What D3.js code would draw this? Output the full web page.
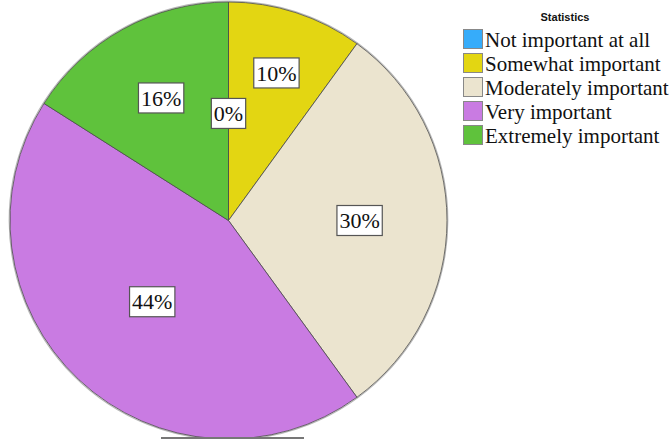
<!DOCTYPE html>
<html>
<head>
<meta charset="utf-8">
<script src="https://cdn.jsdelivr.net/npm/d3@7"></script>
<style>
  html, body { margin: 0; padding: 0; background: #fff; }
  svg { display: block; }
  .serif { font-family: "Liberation Serif", "Times New Roman", Times, serif; }
  .sans { font-family: "Liberation Sans", Arial, Helvetica, sans-serif; }
</style>
</head>
<body>
<svg id="chart" width="671" height="439"></svg>
<script>
// Response categories and their share of answers (percent)
const categories = ["Not important at all", "Somewhat important", "Moderately important", "Very important", "Extremely important"];
const percents = [0, 10, 30, 44, 16];
const legendTitle = "Statistics";

// Styling
const colors = ["#36acfa", "#e3d612", "#ebe4cf", "#c97be2", "#5fc23c"];
const labelRadiusFactor = [0.49, 0.71, 0.6, 0.51, 0.64];

const svg = d3.select("#chart");
const cx = 228.5, cy = 220.5, R = 218.5;

const pie = d3.pie().value(d => d.v).sort(null);
const rows = categories.map((c, i) => ({ c, v: percents[i], i }));
const arcs = pie(rows);
const arc = d3.arc().innerRadius(0).outerRadius(R);

const g = svg.append("g").attr("transform", `translate(${cx},${cy})`);

// faint outer shadow ring
g.append("circle").attr("r", R + 0.8).attr("fill", "none")
  .attr("stroke", "#b8b8b8").attr("stroke-width", 1.2);

g.selectAll("path.slice").data(arcs).join("path")
  .attr("class", "slice")
  .attr("d", arc)
  .attr("fill", d => colors[d.data.i])
  .attr("stroke", "#4a4a4a")
  .attr("stroke-width", 0.8);

// value labels in white boxes
const labels = g.selectAll("g.lbl").data(arcs).join("g").attr("class", "lbl")
  .attr("transform", d => {
    const r = R * labelRadiusFactor[d.data.i];
    const a = d3.arc().innerRadius(r).outerRadius(r);
    const [x, y] = a.centroid(d);
    return `translate(${x},${y})`;
  });
labels.each(function(d) {
  const sel = d3.select(this);
  const t = sel.append("text")
    .attr("class", "serif")
    .attr("text-anchor", "middle")
    .attr("dy", "0.35em")
    .attr("font-size", 22)
    .attr("fill", "#111")
    .text(d3.format("d")(d.data.v) + "%");
  const bb = t.node().getBBox();
  sel.insert("rect", "text")
    .attr("x", bb.x - 2.5).attr("y", -15)
    .attr("width", bb.width + 5).attr("height", 30)
    .attr("fill", "#fff").attr("stroke", "#555").attr("stroke-width", 1.2);
});

// thin rule under the pie
svg.append("rect").attr("x", 161).attr("y", 437).attr("width", 143).attr("height", 2).attr("fill", "#777");

// legend
const legend = svg.append("g");
legend.append("text")
  .attr("class", "sans")
  .attr("x", 565).attr("y", 21).attr("text-anchor", "middle")
  .attr("font-weight", "bold").attr("font-size", 11).attr("fill", "#111")
  .text(legendTitle);

const item = legend.selectAll("g.item").data(categories).join("g").attr("class", "item")
  .attr("transform", (d, i) => `translate(0,${i * 24})`);
item.append("rect")
  .attr("x", 463.5).attr("y", 29.5).attr("width", 19).attr("height", 19)
  .attr("fill", (d, i) => colors[i]).attr("stroke", "#888").attr("stroke-width", 1);
item.append("text")
  .attr("class", "serif")
  .attr("x", 485).attr("y", 46.5)
  .attr("font-size", 21).attr("fill", "#111")
  .text(d => d);
</script>
</body>
</html>
